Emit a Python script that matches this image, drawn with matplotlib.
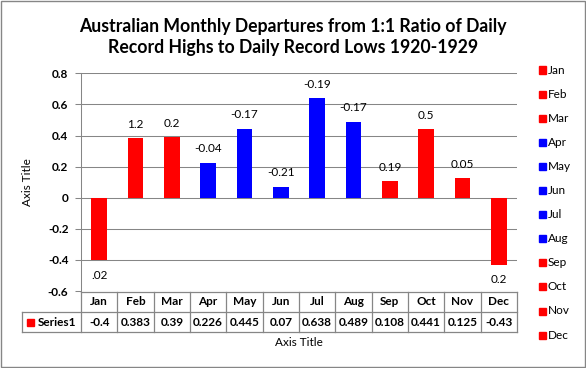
import matplotlib
matplotlib.use('Agg')
import matplotlib.pyplot as plt
from matplotlib.patches import Rectangle
from matplotlib.transforms import blended_transform_factory

# Дані
months = ['Jan', 'Feb', 'Mar', 'Apr', 'May', 'Jun', 'Jul', 'Aug', 'Sep', 'Oct', 'Nov', 'Dec']
values = [-0.4, 0.383, 0.39, 0.226, 0.445, 0.07, 0.638, 0.489, 0.108, 0.441, 0.125, -0.43]
table_text = ['-0.4', '0.383', '0.39', '0.226', '0.445', '0.07', '0.638', '0.489', '0.108', '0.441', '0.125', '-0.43']
bar_labels = ['.02', '1.2', '0.2', '-0.04', '-0.17', '-0.21', '-0.19', '-0.17', '0.19', '0.5', '0.05', '0.2']
colors = ['#FF0000'] * 3 + ['#0000FF'] * 5 + ['#FF0000'] * 4
yticks = [-0.6, -0.4, -0.2, 0, 0.2, 0.4, 0.6, 0.8]

plt.rcParams['font.family'] = ['Lato', 'DejaVu Sans']
grid_c = '#868686'
W, H = 586, 368

fig = plt.figure(figsize=(W / 100, H / 100), dpi=100)
ax = fig.add_axes([81 / W, 1 - 291 / H, 436 / W, (291 - 73.3) / H])

x = list(range(len(months)))
ax.bar(x, values, width=0.44, color=colors, zorder=3)

# Підписи над стовпцями
for xi, v, lab in zip(x, values, bar_labels):
    if v >= 0:
        ax.annotate(lab, (xi, v), xytext=(0, 6), textcoords='offset points',
                    ha='center', va='bottom', fontsize=8.5)
    else:
        ax.annotate(lab, (xi, v), xytext=(0, -7), textcoords='offset points',
                    ha='center', va='top', fontsize=8.5)

ax.set_xlim(-0.5, 11.5)
ax.set_ylim(-0.6, 0.8)
ax.set_yticks(yticks)
ax.set_yticklabels([f'{v:g}' for v in yticks], fontweight='bold', fontsize=8.5)
ax.set_xticks([])
ax.grid(axis='y', color=grid_c, linewidth=0.75, zorder=0)
for s in ['top', 'right', 'bottom']:
    ax.spines[s].set_visible(False)
ax.spines['left'].set_color(grid_c)
ax.spines['left'].set_linewidth(0.75)
ax.tick_params(axis='y', length=4, width=0.75, color=grid_c, pad=5)
ax.set_ylabel('Axis Title', fontsize=8.5, labelpad=11)

# Таблиця даних під графіком
tr = blended_transform_factory(ax.transData, fig.transFigure)
y0, y1, y2 = 1 - 291.5 / H, 1 - 311.7 / H, 1 - 332.3 / H
xl = -0.5 - (81 - 22.3) / 436 * 12
lk = dict(color=grid_c, linewidth=0.9, transform=tr, clip_on=False)
ax.plot([-0.5, 11.5], [y0, y0], **lk)
ax.plot([xl, 11.5], [y1, y1], **lk)
ax.plot([xl, 11.5], [y2, y2], **lk)
ax.plot([xl, xl], [y1, y2], **lk)
for e in range(13):
    ax.plot([e - 0.5, e - 0.5], [y0, y2], **lk)
for xi, m, t in zip(x, months, table_text):
    ax.text(xi, (y0 + y1) / 2, m, transform=tr, ha='center', va='center',
            fontsize=8.5, fontweight='bold')
    ax.text(xi, (y1 + y2) / 2, t, transform=tr, ha='center', va='center',
            fontsize=8.5, fontweight='bold')
fig.patches.append(Rectangle((27 / W, 1 - 326 / H), 7.3 / W, 7.3 / H,
                             transform=fig.transFigure, color='#FF0000'))
fig.text(38 / W, (y1 + y2) / 2, 'Series1', ha='left', va='center',
         fontsize=8.5, fontweight='bold')
fig.text(299 / W, 1 - 343 / H, 'Axis Title', ha='center', va='center', fontsize=8.5)

# Легенда праворуч
for i, (m, c) in enumerate(zip(months, colors)):
    yc = 70 + i * 24.1
    fig.patches.append(Rectangle((539 / W, 1 - (yc + 3.5) / H), 7 / W, 7 / H,
                                 transform=fig.transFigure, color=c))
    fig.text(548 / W, 1 - yc / H, m, ha='left', va='center', fontsize=8.5)

# Назва
fig.text(293 / W, 1 - 37 / H,
         'Australian Monthly Departures from 1:1 Ratio of Daily\nRecord Highs to Daily Record Lows 1920-1929',
         ha='center', va='center', fontsize=12.7, fontweight='bold', linespacing=1.3)

# Рамка
fig.patches.append(Rectangle((0.001, 0.002), 0.997, 0.996, transform=fig.transFigure,
                             fill=False, edgecolor=grid_c, linewidth=1))

fig.savefig('out.png', dpi=100)
